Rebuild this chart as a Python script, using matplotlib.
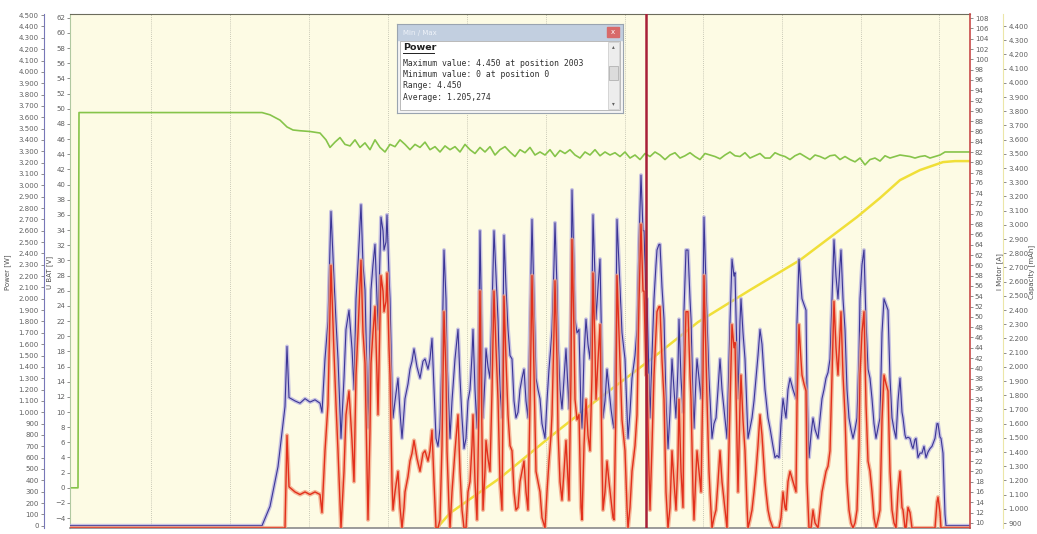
import matplotlib
matplotlib.use('Agg')
import matplotlib.pyplot as plt
from matplotlib.patches import Rectangle
from matplotlib.ticker import FuncFormatter

# Logger positions shared by power and motor current
pos = [
    70, 262, 270, 278, 285, 287, 289, 295, 300, 305,
    310, 315, 320, 322, 325, 328, 331, 334, 336, 338,
    341, 344, 346, 349, 352, 354, 356, 358, 361, 363,
    365, 367, 368, 370, 371, 373, 375, 377, 378, 380,
    381, 383, 384, 386, 387, 389, 390, 392, 393, 395,
    398, 400, 402, 404, 405, 408, 410, 412, 414, 417,
    420, 423, 425, 428, 430, 432, 434, 436, 438, 440,
    442, 444, 446, 447, 449, 450, 452, 455, 458, 460,
    462, 464, 466, 468, 470, 472, 473, 475, 477, 479,
    480, 482, 483, 485, 486, 488, 490, 492, 494, 496,
    498, 500, 502, 503, 504, 506, 508, 510, 512, 514,
    516, 518, 520, 522, 524, 526, 528, 530, 532, 534,
    536, 538, 540, 542, 545, 547, 549, 551, 552, 554,
    555, 557, 558, 560, 562, 564, 566, 568, 569, 571,
    572, 574, 575, 577, 579, 581, 582, 584, 586, 588,
    590, 592, 593, 595, 596, 598, 600, 602, 603, 605,
    607, 609, 611, 613, 614, 616, 617, 619, 620, 622,
    625, 627, 628, 630, 632, 635, 637, 639, 641, 643,
    644, 646, 647, 649, 650, 652, 654, 656, 657, 659,
    660, 662, 664, 666, 668, 670, 672, 674, 676, 678,
    679, 681, 683, 684, 686, 688, 690, 691, 693, 694,
    696, 697, 699, 701, 703, 704, 706, 707, 709, 710,
    712, 714, 716, 718, 720, 722, 724, 726, 727, 730,
    732, 734, 735, 737, 738, 740, 741, 743, 745, 747,
    748, 750, 752, 754, 756, 758, 760, 762, 763, 765,
    766, 768, 770, 773, 775, 777, 779, 781, 783, 785,
    786, 788, 790, 793, 796, 797, 799, 801, 802, 804,
    806, 807, 809, 811, 813, 815, 818, 820, 822, 824,
    826, 828, 830, 832, 834, 836, 838, 840, 841, 843,
    845, 847, 849, 851, 853, 855, 857, 859, 860, 862,
    864, 866, 868, 870, 872, 874, 876, 878, 880, 882,
    884, 886, 888, 890, 892, 894, 896, 898, 900, 902,
    903, 905, 906, 908, 910, 912, 913, 915, 916, 918,
    920, 922, 924, 926, 928, 930, 932, 935, 937, 938,
    940, 941, 943, 945, 946, 970,
]

power_w = [
    0, 0, 170, 520, 1050, 1580, 1130, 1100, 1080, 1120,
    1090, 1110, 1080, 1000, 1470, 1800, 2770, 2170, 1800, 1470,
    770, 1300, 1730, 1900, 1560, 1200, 2000, 2300, 2830, 2300,
    2080, 1300, 860, 1650, 2080, 2300, 2480, 2000, 1730, 2400,
    2720, 2600, 2430, 2500, 2740, 2200, 2000, 1200, 950, 1100,
    1300, 1000, 770, 1000, 1120, 1250, 1380, 1450, 1560, 1400,
    1300, 1450, 1470, 1380, 1470, 1650, 1200, 770, 700, 860,
    1500, 2430, 2000, 1470, 1000, 770, 1100, 1470, 1730, 1300,
    950, 680, 770, 1100, 1200, 1500, 1730, 1200, 860, 1800,
    2600, 1600, 950, 1300, 1560, 1400, 1300, 1900, 2600, 2200,
    1820, 1200, 950, 1800, 2560, 2100, 1730, 1500, 1470, 1100,
    950, 1000, 1200, 1300, 1380, 1100, 950, 1800, 2700, 2000,
    1300, 1200, 1120, 900, 770, 1100, 1380, 1600, 1730, 2300,
    2670, 2100, 1650, 1200, 1030, 1300, 1560, 1200, 1030, 2000,
    2960, 2300, 1820, 1700, 1730, 1000, 860, 1500, 1820, 1600,
    1470, 2000, 2740, 2200, 1820, 2100, 2350, 1400, 950, 1100,
    1380, 1200, 1030, 900, 860, 1800, 2700, 2300, 2080, 1700,
    1470, 1000, 770, 1000, 1300, 1500, 1730, 2500, 3090, 2600,
    2600, 2000, 2000, 1300, 950, 1500, 2000, 2300, 2430, 2480,
    2480, 2100, 1820, 1100, 680, 1000, 1470, 1200, 950, 1400,
    1820, 1300, 1000, 1900, 2430, 2430, 2000, 1820, 1100, 860,
    1300, 1470, 1300, 1120, 2000, 2720, 2100, 1820, 1300, 1120,
    770, 900, 950, 1200, 1470, 1200, 1030, 860, 770, 1800,
    2350, 2200, 2230, 1500, 1120, 1800, 2000, 1700, 1470, 1000,
    770, 860, 950, 1100, 1300, 1500, 1730, 1600, 1470, 1200,
    1120, 950, 860, 700, 600, 620, 600, 900, 1120, 1000,
    950, 1200, 1300, 1200, 1120, 1800, 2350, 2100, 2000, 1950,
    1900, 1200, 600, 800, 950, 850, 770, 950, 1120, 1200,
    1300, 1350, 1470, 2000, 2520, 2200, 2000, 2300, 2430, 2000,
    1730, 1200, 950, 850, 770, 850, 950, 1500, 2000, 2300,
    2430, 1800, 1380, 1300, 1120, 900, 770, 860, 950, 1700,
    2000, 1950, 1900, 1300, 950, 850, 770, 1100, 1300, 1000,
    950, 800, 770, 780, 770, 700, 680, 760, 770, 600,
    640, 640, 700, 600, 650, 680, 700, 770, 900, 900,
    780, 770, 640, 100, 0, 0,
]

motor_a = [
    9, 9, 9, 9, 9, 27, 17, 16, 15.5, 16,
    15.5, 16, 15.5, 12, 24, 33, 60, 43, 33, 24,
    9, 20, 31, 35.6, 26, 18, 38.7, 47, 61, 47,
    41, 20, 10.6, 28, 41, 47, 52, 38.7, 31, 50,
    58, 55, 51, 53, 58.5, 44, 38.7, 18, 12.5, 16,
    20, 13, 9, 13, 16, 19, 22, 23.5, 26, 22.5,
    20, 23.5, 24, 22, 24, 28, 18, 9, 9, 10.6,
    25, 51, 38.7, 24, 13, 9, 16, 24, 31, 20,
    12.5, 9, 9, 16, 18, 25, 31, 18, 10.6, 33,
    55, 27, 12.5, 20, 26, 22.5, 20, 35.6, 55, 44,
    34, 18, 12.5, 33, 54, 41.6, 31, 25, 24, 16,
    12.5, 13, 18, 20, 22, 16, 12.5, 33, 58, 38.7,
    20, 18, 16, 11, 9, 16, 22, 27, 31, 47,
    57, 41.6, 28, 18, 14.4, 20, 26, 18, 14.4, 38.7,
    65, 47, 34, 30, 31, 13, 10.6, 25, 34, 27,
    24, 38.7, 58.5, 44, 34, 41.6, 48.5, 22.5, 12.5, 16,
    22, 18, 14.4, 11, 10.6, 33, 58, 47, 41, 30,
    24, 13, 9, 13, 20, 25, 31, 53, 68, 55,
    55, 38.7, 38.7, 20, 12.5, 25, 38.7, 47, 51, 52,
    52, 41.6, 34, 16, 9, 13, 24, 18, 12.5, 22.5,
    34, 20, 13, 35.6, 51, 51, 38.7, 34, 16, 10.6,
    20, 24, 20, 16, 38.7, 58, 41.6, 34, 20, 16,
    9, 11, 12.5, 18, 24, 18, 14.4, 10.6, 9, 33,
    48.5, 44, 45, 25, 16, 33, 38.7, 30, 24, 13,
    9, 10.6, 12.5, 16, 20, 25, 31, 27, 24, 18,
    16, 12.5, 10.6, 9, 9, 9, 9, 11, 16, 13,
    12.5, 18, 20, 18, 16, 33, 48.5, 41.6, 38.7, 37,
    35.6, 18, 9, 9, 12.5, 10, 9, 12.5, 16, 18,
    20, 21, 24, 38.7, 53, 44, 38.7, 47, 51, 38.7,
    31, 18, 12.5, 10, 9, 10, 12.5, 25, 38.7, 47,
    51, 33, 22, 20, 16, 11, 9, 10.6, 12.5, 30,
    38.7, 37, 35.6, 20, 12.5, 10, 9, 16, 20, 13,
    12.5, 9, 9, 13, 12, 9, 9, 9, 9, 9,
    9, 9, 9, 9, 9, 9, 9, 9, 14, 15,
    12, 9, 9, 9, 9, 9,
]

# battery voltage
ubat_pos = [
    70, 78, 79, 262, 270, 280, 287, 293, 300, 310,
    320, 326, 330, 335, 340, 345, 350, 355, 360, 365,
    370, 375, 380, 385, 390, 395, 400, 405, 410, 415,
    420, 425, 430, 435, 440, 445, 450, 455, 460, 465,
    470, 475, 480, 485, 490, 495, 500, 505, 510, 515,
    520, 525, 530, 535, 540, 545, 550, 555, 560, 565,
    570, 575, 580, 585, 590, 595, 600, 605, 610, 615,
    620, 625, 630, 635, 640, 645, 650, 655, 660, 665,
    670, 675, 680, 685, 690, 695, 700, 705, 710, 715,
    720, 725, 730, 735, 740, 745, 750, 755, 760, 765,
    770, 775, 780, 785, 790, 795, 800, 805, 810, 815,
    820, 825, 830, 835, 840, 845, 850, 855, 860, 865,
    870, 875, 880, 885, 890, 895, 900, 905, 910, 915,
    920, 925, 930, 935, 940, 945, 955, 970,
]
ubat_v = [
    0, 0, 49.5, 49.5, 49.2, 48.5, 47.6, 47.2, 47.1, 47.0,
    46.8, 45.9, 44.9, 45.6, 46.2, 45.3, 45.1, 45.9, 44.9, 45.5,
    44.6, 45.9, 44.9, 44.3, 45.3, 45.0, 45.9, 45.3, 44.6, 45.3,
    44.9, 45.6, 44.6, 45.0, 44.3, 45.1, 44.6, 45.0, 44.3, 45.3,
    44.6, 44.1, 44.9, 44.3, 45.0, 43.9, 44.6, 45.0, 44.3, 43.7,
    44.6, 44.2, 44.9, 43.9, 44.3, 43.9, 44.6, 43.7, 44.5, 44.1,
    44.6, 43.9, 43.5, 44.3, 43.9, 44.6, 43.8, 44.3, 43.9, 44.2,
    43.7, 44.3, 43.5, 43.9, 43.3, 44.1, 43.7, 44.3, 43.9, 43.3,
    43.9, 44.2, 43.5, 43.8, 44.2, 43.7, 43.3, 44.1, 43.9, 43.7,
    43.4, 43.9, 44.3, 43.8, 43.7, 44.2, 43.5, 43.8, 44.1, 43.5,
    43.5, 44.2, 43.9, 43.7, 43.3, 43.8, 44.1, 43.7, 43.3, 43.9,
    43.7, 43.4, 43.8, 43.9, 43.3, 43.7, 43.3, 43.0, 43.5, 42.6,
    43.3, 43.5, 43.1, 43.8, 43.5, 43.7, 43.9, 43.8, 43.7, 43.5,
    43.7, 43.8, 43.5, 43.7, 43.9, 44.3, 44.3, 44.3,
]

# used capacity
cap_pos = [437, 450, 500, 550, 593, 650, 698, 750, 800, 857, 880, 900, 920, 943, 955, 970]
cap_mah = [865, 970, 1217, 1506, 1745, 2048, 2315, 2541, 2752, 3055, 3189, 3315, 3386, 3442, 3449, 3449]

grid_pos = [151, 230, 309, 388, 467, 546, 625, 703, 782, 861, 939]
cursor_pos = 646

power_ticks = list(range(0, 4501, 100))
ubat_ticks = list(range(-4, 63, 2))
motor_ticks = list(range(10, 109, 2))
cap_ticks = list(range(900, 4401, 100))

tooltip_lines = [
    'Maximum value: 4.450 at position 2003',
    'Minimum value: 0 at position 0',
    'Range: 4.450',
    'Average: 1.205,274',
]

assert len(pos) == len(power_w) == len(motor_a)
assert len(ubat_pos) == len(ubat_v)

W, H = 1037, 534
fig = plt.figure(figsize=(W / 100, H / 100), dpi=100)
fig.patch.set_facecolor('white')

left, right, top, bottom = 70, 970, 14, 528
rect = [left / W, 1 - bottom / H, (right - left) / W, (bottom - top) / H]
dots = lambda v, _: f'{int(round(v)):,}'.replace(',', '.')

ax_u = fig.add_axes(rect)
ax_u.set_facecolor('#fdfbe4')
ax_c = ax_u.twinx()
ax_p = ax_u.twinx()
ax_i = ax_u.twinx()

for a in (ax_u, ax_c, ax_p, ax_i):
    a.set_xlim(70, 970)
    a.set_xticks([])
    for s in a.spines.values():
        s.set_visible(False)
    a.tick_params(axis='y', labelsize=5, length=2, width=0.5, pad=1.5,
                  colors='#606060')

# grid
for g in grid_pos:
    ax_u.axvline(g, color='#b8b8a8', lw=0.6, ls=(0, (1, 1.5)), zorder=0)

# U BAT (plot left border)
ax_u.plot(ubat_pos, ubat_v, color='#86c44a', lw=1.2)
ax_u.set_ylim(-5.3, 62.5)
ax_u.set_yticks(ubat_ticks)
ax_u.spines['left'].set_visible(True)
ax_u.spines['left'].set_color('#b0c8a0')
ax_u.spines['top'].set_visible(True)
ax_u.spines['top'].set_color('#6c6c5c')
ax_u.spines['bottom'].set_visible(True)
ax_u.spines['bottom'].set_color('#8a8a8a')
ax_u.spines['bottom'].set_linewidth(1.2)

# capacity
ax_c.plot(cap_pos, cap_mah, color='#f0df38', lw=1.8)
ax_c.set_ylim(865, 4485)
ax_c.set_yticks(cap_ticks)
ax_c.yaxis.set_major_formatter(FuncFormatter(dots))
ax_c.spines['right'].set_visible(True)
ax_c.spines['right'].set_position(('outward', 24))
ax_c.spines['right'].set_color('#ece6a8')

# power
ax_p.plot(pos, power_w, color='#b4aee0', lw=2.8, alpha=0.75)
ax_p.plot(pos, power_w, color='#3c3696', lw=0.8)
ax_p.set_ylim(-20, 4510)
ax_p.yaxis.tick_left()
ax_p.set_yticks(power_ticks)
ax_p.yaxis.set_major_formatter(FuncFormatter(dots))
ax_p.spines['left'].set_visible(True)
ax_p.spines['left'].set_position(('outward', 19))
ax_p.spines['left'].set_color('#7878b8')

# motor current
ax_i.plot(pos, motor_a, color='#f2a080', lw=3.0, alpha=0.75)
ax_i.plot(pos, motor_a, color='#e2301c', lw=1.0)
ax_i.set_ylim(9.0, 108.8)
ax_i.set_yticks(motor_ticks)
ax_i.spines['right'].set_visible(True)
ax_i.spines['right'].set_color('#c84a48')
ax_i.spines['right'].set_linewidth(1.2)
ax_i.axvline(cursor_pos, color='#a82038', lw=1.8)

# axis titles
for x, txt in [(8, 'Power [W]'), (50, 'U BAT [V]'), (1000, 'I Motor [A]'), (1032, 'Capacity [mAh]')]:
    fig.text(x / W, 1 - 272 / H, txt, rotation=90, fontsize=5, color='#505050',
             ha='center', va='center')

# statistics popup
tl, tt, tw, th = 397, 24, 226, 89
tip = fig.add_axes([tl / W, 1 - (tt + th) / H, tw / W, th / H], zorder=10)
tip.set_xlim(0, tw)
tip.set_ylim(th, 0)
tip.set_xticks([])
tip.set_yticks([])
tip.set_facecolor('#f4f4f4')
for s in tip.spines.values():
    s.set_color('#9aa4b0')
    s.set_linewidth(0.8)
tip.add_patch(Rectangle((0, 0), tw, 16, color='#c2cfe0'))
tip.text(6, 8.5, 'Min / Max', fontsize=5, color='#eef2f8', va='center')
tip.add_patch(Rectangle((210, 3), 12, 10, color='#d86a6a'))
tip.text(216, 8.3, 'x', fontsize=5, color='white', ha='center', va='center')
tip.add_patch(Rectangle((3, 17), 220, 69, facecolor='white', edgecolor='#b0b0b0', lw=0.6))
tip.add_patch(Rectangle((211, 18), 11, 67, facecolor='#ededed', edgecolor='#c8c8c8', lw=0.5))
tip.add_patch(Rectangle((212, 42), 9, 14, facecolor='#dcdcdc', edgecolor='#a8a8a8', lw=0.5))
tip.text(216.5, 23, '\u25b4', fontsize=4, ha='center', va='center', color='#606060')
tip.text(216.5, 80, '\u25be', fontsize=4, ha='center', va='center', color='#606060')
tip.text(6, 23, 'Power', fontsize=6.8, fontweight='bold', family='DejaVu Sans',
         va='center', color='#202020')
tip.plot([6, 37], [28.5, 28.5], color='#202020', lw=0.7)
for k, line in enumerate(tooltip_lines):
    tip.text(6, 39 + k * 11.5, line, fontsize=5.9, family='DejaVu Sans Mono',
             va='center', color='#303030')

fig.savefig('out.png', dpi=100, facecolor='white')
